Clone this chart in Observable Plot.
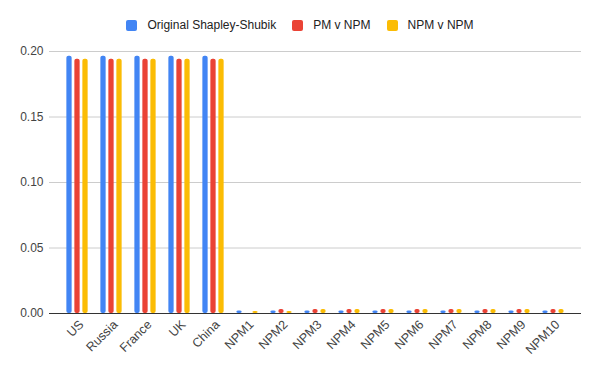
<!DOCTYPE html>
<html>
<head>
<meta charset="utf-8">
<script src="https://cdn.jsdelivr.net/npm/d3@7"></script>
<script src="https://cdn.jsdelivr.net/npm/@observablehq/plot@0.6"></script>
<style>
  html, body { margin: 0; padding: 0; background: #fff; }
  body { width: 600px; height: 371px; overflow: hidden; font-family: "Liberation Sans", Arial, sans-serif; }
  #legend { height: 40px; display: flex; justify-content: center; align-items: flex-start; box-sizing: border-box; padding-top: 18px; font-size: 12px; line-height: 14px; color: #222; }
  #legend .item { display: flex; align-items: center; margin: 0 8px; }
  #legend .sw { width: 11px; height: 11px; border-radius: 2px; margin-right: 10px; }
</style>
</head>
<body>
<div id="legend"></div>
<div id="chart"></div>
<script>
const categories = ["US", "Russia", "France", "UK", "China", "NPM1", "NPM2", "NPM3", "NPM4", "NPM5", "NPM6", "NPM7", "NPM8", "NPM9", "NPM10"];
const seriesNames = ["Original Shapley-Shubik", "PM v NPM", "NPM v NPM"];
const seriesColors = ["#4285F4", "#EA4335", "#FBBC04"];
const originalSS = [0.1963, 0.1963, 0.1963, 0.1963, 0.1963, 0.0019, 0.0019, 0.0019, 0.0019, 0.0019, 0.0019, 0.0019, 0.0019, 0.0019, 0.0019];
const pmVnpm =     [0.1940, 0.1940, 0.1940, 0.1940, 0.1940, 0.0000, 0.0030, 0.0030, 0.0030, 0.0030, 0.0030, 0.0030, 0.0030, 0.0030, 0.0030];
const npmVnpm =    [0.1940, 0.1940, 0.1940, 0.1940, 0.1940, 0.0015, 0.0015, 0.0030, 0.0030, 0.0030, 0.0030, 0.0030, 0.0030, 0.0030, 0.0030];
const yTicks = [0, 0.05, 0.10, 0.15, 0.20];

const seriesValues = [originalSS, pmVnpm, npmVnpm];
const data = [];
seriesNames.forEach((s, si) => categories.forEach((c, ci) => data.push({cat: c, series: s, value: seriesValues[si][ci], si})));

// legend
const leg = document.getElementById("legend");
seriesNames.forEach((s, i) => {
  const it = document.createElement("div");
  it.className = "item";
  it.innerHTML = `<div class="sw" style="background:${seriesColors[i]}"></div><span>${s}</span>`;
  leg.appendChild(it);
});

const width = 600, height = 331;
const marginLeft = 49, marginRight = 19;
const inset = 5.6;
const band = (width - marginLeft - marginRight - 2 * inset) / categories.length;
const barW = 6, gap = 8;
const side = (band - barW) / 2;

const marks = [
  Plot.ruleY(yTicks.filter(d => d > 0), {stroke: "#ccc", strokeWidth: 1})
];
seriesNames.forEach((s, i) => {
  marks.push(Plot.barY(data.filter(d => d.series === s), {
    x: "cat", y: "value", fill: seriesColors[i],
    insetLeft: side, insetRight: side, dx: (i - 1) * gap, rx: 2
  }));
});
marks.push(Plot.ruleY([0], {stroke: "#333", strokeWidth: 1}));
marks.push(Plot.axisX({tickSize: 0, tickPadding: 8, tickRotate: -45, dx: 4, dy: 1, label: null, fontSize: 12.5}));
marks.push(Plot.axisY({ticks: yTicks, tickFormat: d3.format(".2f"), tickSize: 0, tickPadding: 6, label: null}));

const chart = Plot.plot({
  width, height,
  marginTop: 11, marginBottom: 58, marginLeft, marginRight,
  style: {fontFamily: "'Liberation Sans', Arial, sans-serif", fontSize: "12px", color: "#444", background: "#fff"},
  x: {domain: categories, padding: 0, insetLeft: inset, insetRight: inset},
  y: {domain: [0, 0.2]},
  marks
});
document.getElementById("chart").appendChild(chart);
</script>
</body>
</html>
